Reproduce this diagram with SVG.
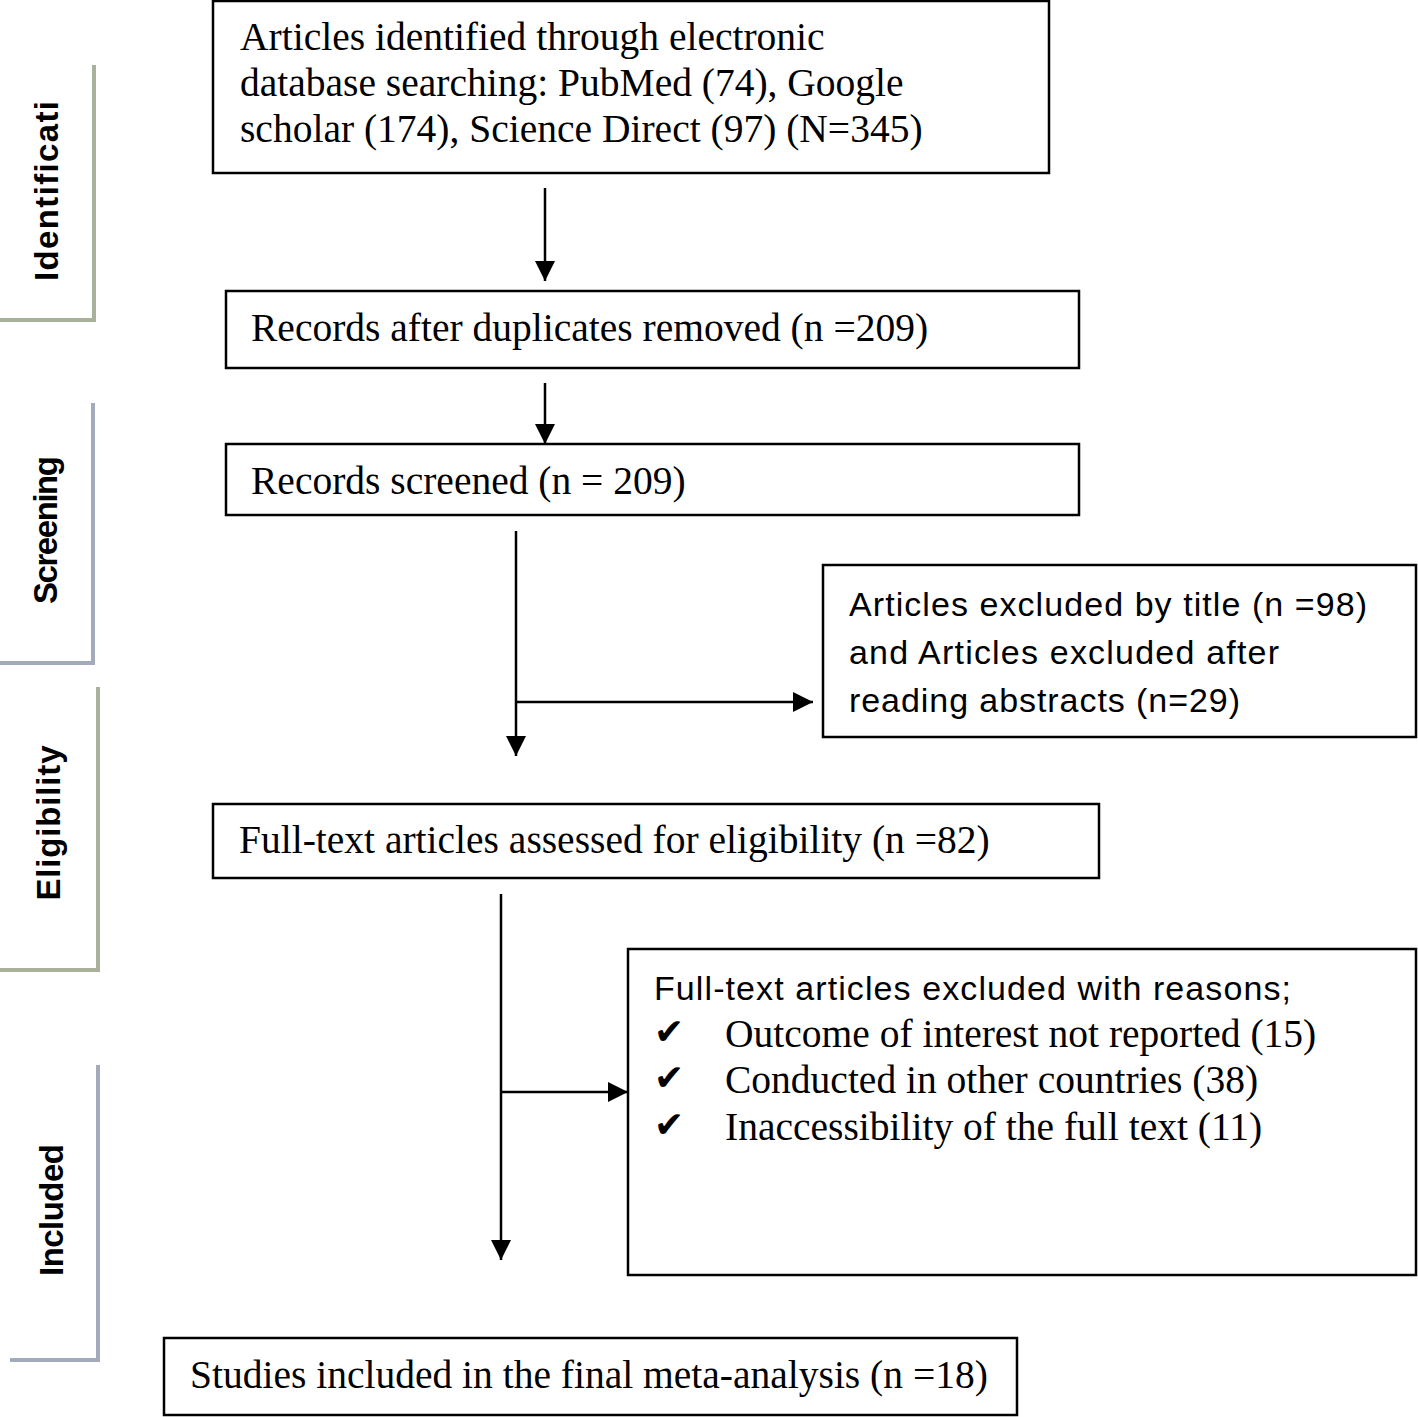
<svg xmlns="http://www.w3.org/2000/svg" width="1418" height="1417" viewBox="0 0 1418 1417">
<style>
.box{fill:#fff;stroke:#000;stroke-width:2.5}
.serif{font-family:"Liberation Serif","Times New Roman",serif;font-size:39.5px;fill:#000}
.sans{font-family:"Liberation Sans",Arial,sans-serif;font-size:34px;fill:#000}
.chk{font-family:"DejaVu Sans",sans-serif;font-size:36px;fill:#000}
.side{font-family:"Liberation Sans",Arial,sans-serif;font-size:33px;font-weight:bold;fill:#000}
.conn{stroke:#000;stroke-width:2.5;fill:none;marker-end:url(#ah)}
.brg{stroke:#a9b19a;stroke-width:4;fill:none}
.brb{stroke:#a3abbb;stroke-width:4;fill:none}
</style>
<defs>
<marker id="ah" markerWidth="20" markerHeight="20" refX="20" refY="10" orient="auto" markerUnits="userSpaceOnUse" viewBox="0 0 20 20">
<path d="M0,0 L20,10 L0,20 Z" fill="#000"/>
</marker>
</defs>
<rect width="1418" height="1417" fill="#fff"/>
<g id="phases">
<g id="phase-identification">
<path class="brg" d="M94,65 V320 H0"/>
<text class="side" transform="translate(58,191) rotate(-90)" text-anchor="middle" textLength="180">Identificati</text>
</g>
<g id="phase-screening">
<path class="brb" d="M93,403 V663 H0"/>
<text class="side" transform="translate(57,530) rotate(-90)" text-anchor="middle" textLength="148">Screening</text>
</g>
<g id="phase-eligibility">
<path class="brg" d="M98,687 V970 H0"/>
<text class="side" transform="translate(60,823) rotate(-90)" text-anchor="middle" textLength="155">Eligibility</text>
</g>
<g id="phase-included">
<path class="brb" d="M98,1065 V1360 H10"/>
<text class="side" transform="translate(63,1210) rotate(-90)" text-anchor="middle" textLength="132">Included</text>
</g>
</g>
<g id="connectors">
<line class="conn" x1="545" y1="188" x2="545" y2="281"/>
<line class="conn" x1="545" y1="383" x2="545" y2="444"/>
<line class="conn" x1="516" y1="531" x2="516" y2="756"/>
<line class="conn" x1="516" y1="702" x2="813" y2="702"/>
<line class="conn" x1="501" y1="894" x2="501" y2="1260"/>
<line class="conn" x1="501" y1="1092" x2="628" y2="1092"/>
</g>
<g id="n1">
<rect class="box" x="213" y="1" width="836" height="172"/>
<text class="serif" x="240" y="50">Articles identified through electronic</text>
<text class="serif" x="240" y="96">database searching: PubMed (74), Google</text>
<text class="serif" x="240" y="142">scholar (174), Science Direct (97) (N=345)</text>
</g>
<g id="n2">
<rect class="box" x="226" y="291" width="853" height="77"/>
<text class="serif" x="251" y="341">Records after duplicates removed (n =209)</text>
</g>
<g id="n3">
<rect class="box" x="226" y="444" width="853" height="71"/>
<text class="serif" x="251" y="494">Records screened (n = 209)</text>
</g>
<g id="n4">
<rect class="box" x="823" y="565" width="593" height="172"/>
<text class="sans" x="849" y="616" textLength="518">Articles excluded by title (n =98)</text>
<text class="sans" x="849" y="664" textLength="430">and Articles excluded after</text>
<text class="sans" x="849" y="712" textLength="391">reading abstracts (n=29)</text>
</g>
<g id="n5">
<rect class="box" x="213" y="804" width="886" height="74"/>
<text class="serif" x="239" y="853">Full-text articles assessed for eligibility (n =82)</text>
</g>
<g id="n6">
<rect class="box" x="628" y="949" width="788" height="326"/>
<text class="sans" x="654" y="1000" textLength="637">Full-text articles excluded with reasons;</text>
<text class="chk" x="654" y="1044">✔</text>
<text class="serif" x="725" y="1047">Outcome of interest not reported (15)</text>
<text class="chk" x="654" y="1090">✔</text>
<text class="serif" x="725" y="1093">Conducted in other countries (38)</text>
<text class="chk" x="654" y="1137">✔</text>
<text class="serif" x="725" y="1140">Inaccessibility of the full text (11)</text>
</g>
<g id="n7">
<rect class="box" x="164" y="1338" width="853" height="77"/>
<text class="serif" x="190" y="1388">Studies included in the final meta-analysis (n =18)</text>
</g>
</svg>
